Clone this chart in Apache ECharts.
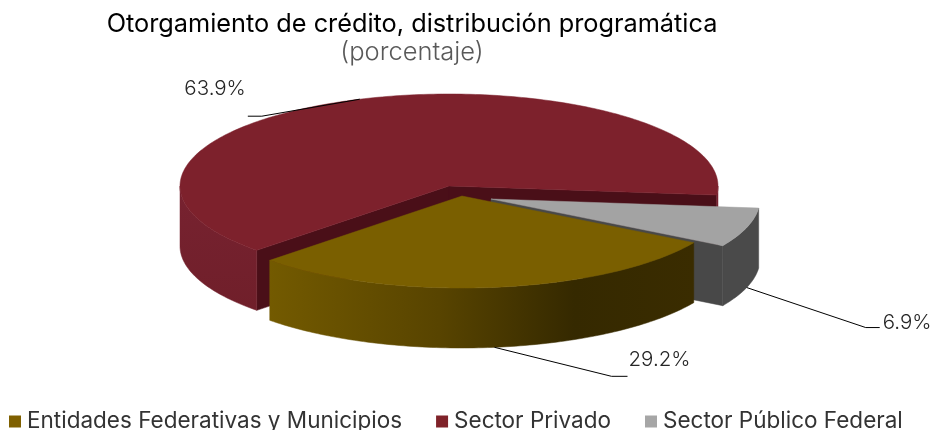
<!DOCTYPE html>
<html>
<head>
<meta charset="utf-8">
<style>
  html, body { margin: 0; padding: 0; background: #fff; overflow: hidden; }
  #chart { width: 933px; height: 430px; }
</style>
</head>
<body>
<div id="chart"></div>
<script src="https://cdn.jsdelivr.net/npm/echarts@6/dist/echarts.min.js"></script>
<script>
const FONT = 'Inter'

// data, in the order the slices run clockwise
const categories = ['Entidades Federativas y Municipios', 'Sector Privado', 'Sector Público Federal']
const values = [29.2, 63.9, 6.9]

// legend swatch / top face / wall colours
const topColors = ['#7a5f00', '#7d212c', '#a3a3a3']
const legendColors = ['#7f6000', '#7f2229', '#a6a6a6']
const cutColors = ['#3a2c00', '#4a0f18', '#484848']

// tilted pie layout
const START_ANGLE = 30.5
const RX = 269
const RY = 92
const DEPTH = 60
const centers = [[462, 196], [449, 186], [491, 199]]
const drawOrder = [1, 2, 0]

// leader lines: offset of the elbow and of the line end from the slice's rim
const elbowOffsets = [[117, 29], [-98, 17], [119, 40]]
const endOffsets = [[133, 29], [-112, 17], [133, 40]]
const labelOffsets = [[134, 13], [-114, -10], [136, 35]]
const labelOnBottomRim = [true, false, true]

const total = values.reduce((a, b) => a + b, 0)

const sliceAngles = (index) => {
  let a = START_ANGLE
  for (let i = 0; i < index; i++) a += values[i] / total * 360
  return [a, a + values[index] / total * 360]
}

const rimPoint = (c, deg, dy = 0) => {
  const r = deg * Math.PI / 180
  return [c[0] + RX * Math.cos(r), c[1] + RY * Math.sin(r) + dy]
}

const arcPoints = (c, from, to, dy = 0) => {
  const pts = []
  for (let a = from; a < to; a += 1) pts.push(rimPoint(c, a, dy))
  pts.push(rimPoint(c, to, dy))
  return pts
}

const poly = (points, fill) => ({
  type: 'polygon',
  shape: { points },
  style: { fill, stroke: fill, lineWidth: 0.5 },
})

const outerWallFill = (index, c) => {
  if (index === 0) {
    return {
      type: 'linear', global: true,
      x: c[0] - 193, y: 0, x2: c[0] + 231, y2: 0,
      colorStops: [
        { offset: 0, color: '#735a00' },
        { offset: 0.4, color: '#584400' },
        { offset: 0.72, color: '#352900' },
        { offset: 1, color: '#3a2c00' },
      ],
    }
  }
  if (index === 1) {
    return {
      type: 'linear', global: true,
      x: 0, y: c[1], x2: 0, y2: c[1] + 125,
      colorStops: [
        { offset: 0, color: '#772230' },
        { offset: 1, color: '#701f2a' },
      ],
    }
  }
  return '#4a4a4a'
}

// one slice: cut faces, the outer wall facing us, then the top face
const renderSlice = (params, api) => {
  const index = categories.indexOf(params.seriesName)
  const c = centers[index]
  const [a0, a1] = sliceAngles(index)
  const children = []

  const cut = (deg) => {
    const p = rimPoint(c, deg)
    return poly([c, p, [p[0], p[1] + DEPTH], [c[0], c[1] + DEPTH]], cutColors[index])
  }
  if (Math.sin((a0 - 90) * Math.PI / 180) > 0) children.push(cut(a0))
  if (Math.sin((a1 + 90) * Math.PI / 180) > 0) children.push(cut(a1))

  // only the part of the rim between 0 and 180 degrees faces the viewer
  for (const shift of [0, 360]) {
    const from = Math.max(a0, shift)
    const to = Math.min(a1, shift + 180)
    if (to > from) {
      const top = arcPoints(c, from, to)
      const bottom = arcPoints(c, from, to, DEPTH).reverse()
      children.push(poly(top.concat(bottom), outerWallFill(index, c)))
    }
  }

  children.push(poly([c].concat(arcPoints(c, a0, a1)), topColors[index]))
  return { type: 'group', children }
}

// percentage labels with their leader lines
const renderLabel = (params, api) => {
  const i = params.dataIndex
  const c = centers[i]
  const [a0, a1] = sliceAngles(i)
  const start = rimPoint(c, (a0 + a1) / 2, labelOnBottomRim[i] ? DEPTH : 0)
  return {
    type: 'group',
    children: [
      {
        type: 'polyline',
        shape: {
          points: [
            start,
            [start[0] + elbowOffsets[i][0], start[1] + elbowOffsets[i][1]],
            [start[0] + endOffsets[i][0], start[1] + endOffsets[i][1]],
          ],
        },
        style: { stroke: '#000', lineWidth: 1, fill: null },
      },
      {
        type: 'text',
        style: {
          x: start[0] + labelOffsets[i][0],
          y: start[1] + labelOffsets[i][1],
          text: api.value(0).toFixed(1) + '%',
          fill: '#262626',
          font: '300 20.5px ' + FONT,
          align: i === 1 ? 'right' : 'left',
          verticalAlign: 'middle',
        },
      },
    ],
  }
}

const chart = echarts.init(document.getElementById('chart'), null, { renderer: 'canvas' })

chart.setOption({
  backgroundColor: '#fff',
  animation: false,
  title: {
    text: 'Otorgamiento de crédito, distribución programática',
    subtext: '(porcentaje)',
    left: 407,
    top: 7,
    textAlign: 'center',
    itemGap: 2,
    textStyle: { fontFamily: FONT, fontSize: 25.3, fontWeight: 400, color: '#000' },
    subtextStyle: { fontFamily: FONT, fontSize: 25.5, fontWeight: 300, color: '#595959' },
  },
  legend: {
    data: categories,
    left: 9,
    top: 410,
    padding: 0,
    itemWidth: 12,
    itemHeight: 12,
    itemGap: 34,
    icon: 'rect',
    textStyle: { fontFamily: FONT, fontSize: 22.5, color: '#333', padding: [2, 0, 0, 1] },
  },
  series: drawOrder.map((i) => ({
    type: 'custom',
    name: categories[i],
    coordinateSystem: 'none',
    data: [values[i]],
    itemStyle: { color: legendColors[i] },
    z: 2,
    silent: true,
    renderItem: renderSlice,
  })).concat([{
    type: 'custom',
    name: 'labels',
    coordinateSystem: 'none',
    data: values.map((v) => [v]),
    z: 5,
    silent: true,
    renderItem: renderLabel,
  }]),
})
</script>
</body>
</html>
